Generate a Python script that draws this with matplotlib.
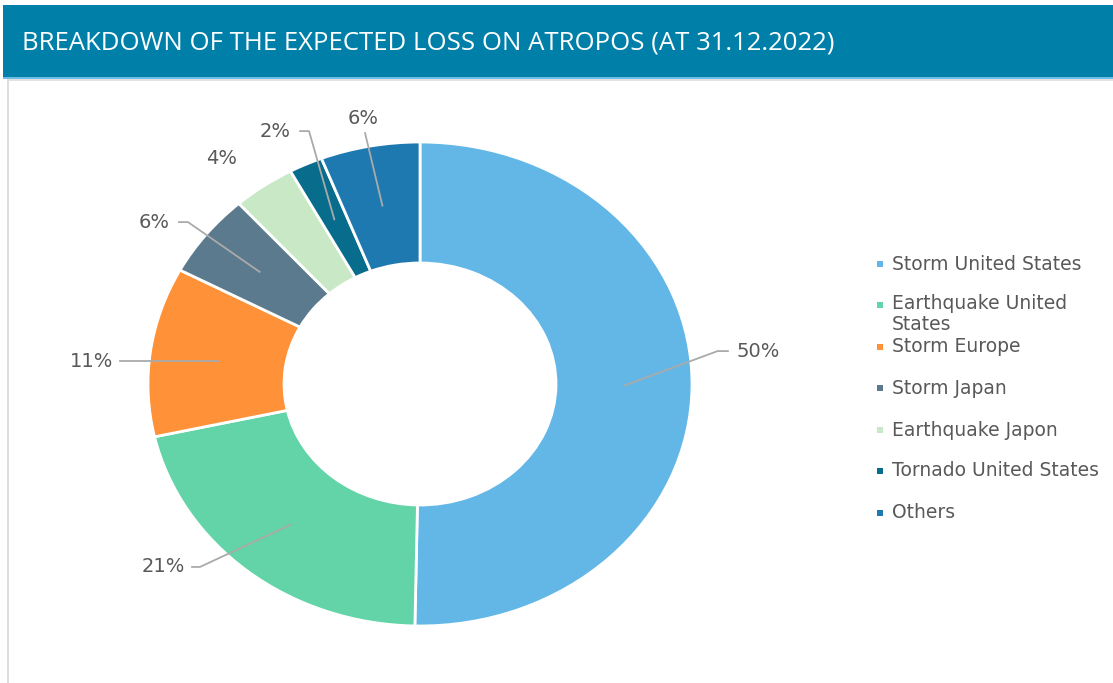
import matplotlib
matplotlib.use("Agg")
import matplotlib.pyplot as plt
from matplotlib.patches import Rectangle
import numpy as np

# ---- data ----
categories = ["Storm United States", "Earthquake United\nStates", "Storm Europe",
              "Storm Japan", "Earthquake Japon", "Tornado United States", "Others"]
values = [50.3, 21.2, 11.3, 5.6, 3.7, 2.0, 5.9]
colors = ["#63B7E7", "#62D4A7", "#FF9138", "#5C7A8E", "#C9E8C5", "#086C8C", "#1F79B1"]
title = "BREAKDOWN OF THE EXPECTED LOSS ON ATROPOS (AT 31.12.2022)"

# ---- layout (label positions in axes data units) ----
# (text_x, text_y, ha, elbow_x, end_x) ; leader drawn from wedge to elbow then to end
label_layout = [
    (1.165, 0.136, "left", 1.094, 1.132),
    (-0.864, -0.756, "right", -0.809, -0.838),
    (-1.129, 0.095, "right", None, -1.103),
    (-0.919, 0.669, "right", -0.853, -0.886),
    (-0.728, 0.93, "center", "none", None),
    (-0.474, 1.045, "right", -0.408, -0.441),
    (-0.21, 1.099, "center", "direct", -0.202),
]

W, H = 1113, 683
fig = plt.figure(figsize=(W / 100, H / 100), dpi=100)
fig.patch.set_facecolor("white")

# header
fig.add_artist(Rectangle((3 / W, 1 - 77 / H), 1, 72 / H, transform=fig.transFigure,
                         facecolor="#0080A8", edgecolor="none"))
fig.add_artist(Rectangle((3 / W, 1 - 79 / H), 1, 2 / H, transform=fig.transFigure,
                         facecolor="#6CBDE9", edgecolor="none"))
fig.add_artist(Rectangle((8 / W, 1 - 81 / H), 1, 2 / H, transform=fig.transFigure,
                         facecolor="#E2E2E2", edgecolor="none"))
fig.add_artist(Rectangle((7 / W, 0), 2 / W, 1 - 79 / H, transform=fig.transFigure,
                         facecolor="#DDDDDD", edgecolor="none"))
fig.text(22 / W, 1 - 43 / H, title, color="white", fontsize=18.5,
         family="Open Sans", va="center", ha="left")

# donut axes (elliptical like the reference)
ax = fig.add_axes([148 / W, 1 - 626 / H, 544 / W, 484 / H])

wedges, _ = ax.pie(values, colors=colors, startangle=90, counterclock=False,
                   radius=1.0, wedgeprops=dict(width=0.5, edgecolor="white", linewidth=2))
ax.set_aspect("auto")
ax.set_xlim(-1, 1)
ax.set_ylim(-1, 1)
ax.axis("off")

label_color = "#595959"
line_color = "#AAAAAA"
for w, v, lay in zip(wedges, values, label_layout):
    ang = np.deg2rad((w.theta1 + w.theta2) / 2)
    sx, sy = 0.75 * np.cos(ang), 0.75 * np.sin(ang)
    tx, ty, ha, elbow, endx = lay
    if elbow == "none":
        pass
    elif elbow == "direct":
        ax.plot([sx, endx], [sy, ty - 0.062], color=line_color, lw=1.3, clip_on=False)
    elif elbow is None:
        ax.plot([sx, endx], [ty, ty], color=line_color, lw=1.3, clip_on=False)
    else:
        ax.plot([sx, elbow, endx], [sy, ty, ty], color=line_color, lw=1.3, clip_on=False)
    ax.text(tx, ty, f"{round(v):d}%", ha=ha, va="center", fontsize=14,
            color=label_color, family="DejaVu Sans", clip_on=False)

# legend (manual)
leg_y = [264, 305, 347, 388, 430, 471, 513]
for c, lab, yy in zip(colors, categories, leg_y):
    fig.add_artist(Rectangle(((880 - 3) / W, 1 - (yy + 3) / H), 6 / W, 6 / H,
                             transform=fig.transFigure, facecolor=c, edgecolor="none"))
    if "\n" in lab:
        fig.text(892 / W, 1 - (yy - 11) / H, lab, fontsize=13.5, color=label_color,
                 family="DejaVu Sans", va="top", ha="left", linespacing=1.15)
    else:
        fig.text(892 / W, 1 - yy / H, lab, fontsize=13.5, color=label_color,
                 family="DejaVu Sans", va="center", ha="left")

fig.savefig("out.png", dpi=100)
